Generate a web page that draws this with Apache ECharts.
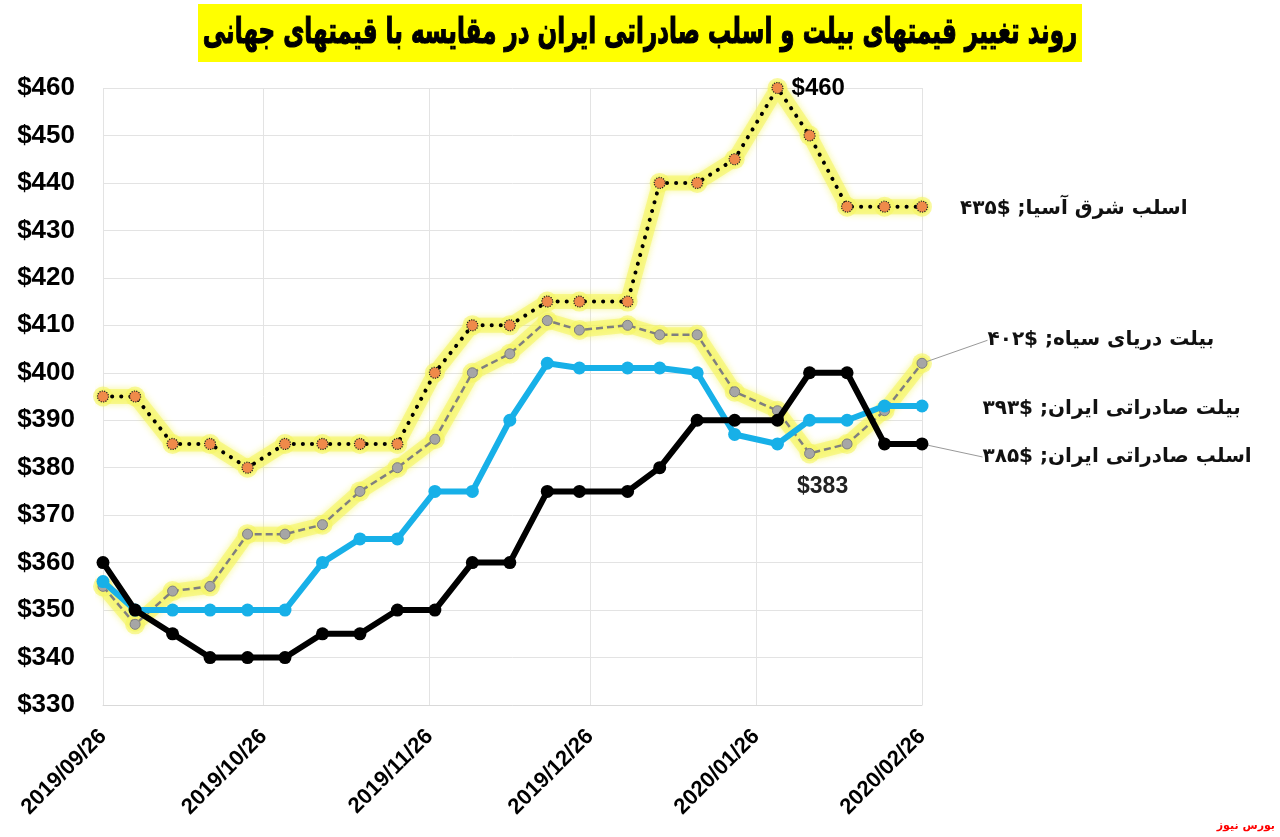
<!DOCTYPE html>
<html>
<head>
<meta charset="utf-8">
<script src="https://cdn.jsdelivr.net/npm/echarts@6/dist/echarts.min.js"></script>
<style>
html,body{margin:0;padding:0;background:#fff;}
#chart{width:1280px;height:837px;}
</style>
</head>
<body>
<div id="chart"></div>
<script>
// ---- data ----
const dates = ['2019-09-26','2019-10-02','2019-10-09','2019-10-16','2019-10-23','2019-10-30','2019-11-06','2019-11-13','2019-11-20','2019-11-27','2019-12-04','2019-12-11','2019-12-18','2019-12-24','2020-01-02','2020-01-08','2020-01-15','2020-01-22','2020-01-30','2020-02-05','2020-02-12','2020-02-19','2020-02-26'];
const tickDates = ['2019-09-26','2019-10-26','2019-11-26','2019-12-26','2020-01-26','2020-02-26'];
const eastAsiaSlab   = [395,395,385,385,380,385,385,385,385,400,410,410,415,415,415,440,440,445,460,450,435,435,435];
const blackSeaBillet = [355,347,354,355,366,366,368,375,380,386,400,404,411,409,410,408,408,396,392,383,385,392,402];
const iranBillet     = [356,350,350,350,350,350,360,365,365,375,375,390,402,401,401,401,400,387,385,390,390,393,393];
const iranSlab       = [360,350,345,340,340,340,345,345,350,350,360,360,375,375,375,380,390,390,390,400,400,385,385];
const seriesNames = ['اسلب شرق آسیا','بیلت دریای سیاه','بیلت صادراتی ایران','اسلب صادراتی ایران'];
const titleText = 'روند تغییر قیمتهای بیلت و اسلب صادراتی ایران در مقایسه با قیمتهای جهانی';
const sourceText = 'بورس نیوز';
const yMin = 330, yMax = 460, yStep = 10;

// ---- helpers ----
function ts(s){const p=s.split('-');return Date.UTC(+p[0],+p[1]-1,+p[2]);}
function fmtDate(v){const d=new Date(v);const m=d.getUTCMonth()+1,dd=d.getUTCDate();return d.getUTCFullYear()+'/'+(m<10?'0':'')+m+'/'+(dd<10?'0':'')+dd;}
function toFa(n){return String(n).replace(/[0-9]/g,c=>'۰۱۲۳۴۵۶۷۸۹'[+c]);}
function endText(i,arr){return seriesNames[i]+'; $'+toFa(arr[arr.length-1]);}
const X = dates.map(ts);
const LAST = dates.length - 1;
const latin = "'Liberation Sans',Arial,sans-serif";
const fa = "'DejaVu Sans',sans-serif";

function build(arr, labelFn){
  return arr.map((v,i)=>{
    const item = {value:[X[i], v]};
    const lab = labelFn ? labelFn(i, v, arr) : null;
    if (lab) Object.assign(item, lab);
    return item;
  });
}
const legendLabel = {color:'#111', fontFamily:fa, fontSize:20, fontWeight:'bold', position:'right'};
const glowLine = {width:15, color:'rgba(246,246,100,0.62)', shadowBlur:7, shadowColor:'rgba(240,240,40,0.8)', cap:'round', join:'round'};
const leader = {show:true, lineStyle:{color:'#999', width:1}};

const chart = echarts.init(document.getElementById('chart'), null, {renderer:'canvas'});
chart.setOption({
  animation:false,
  backgroundColor:'#fff',
  grid:{left:103, right:358, top:88, bottom:132, containLabel:false},
  xAxis:{
    type:'value', min:X[0], max:X[LAST], scale:true,
    axisLine:{show:true, lineStyle:{color:'#d9d9d9', width:1}},
    axisTick:{show:false, customValues:tickDates.map(ts)},
    splitLine:{show:true, lineStyle:{color:'#e3e3e3', width:1}},
    axisLabel:{customValues:tickDates.map(ts), rotate:45, margin:28, color:'#000', fontWeight:'bold', fontSize:22, fontFamily:latin, formatter:v=>fmtDate(v)}
  },
  yAxis:{
    type:'value', min:yMin, max:yMax, interval:yStep,
    axisLine:{show:false}, axisTick:{show:false},
    splitLine:{lineStyle:{color:'#e3e3e3', width:1}},
    axisLabel:{margin:28, color:'#000', fontWeight:'bold', fontSize:26, fontFamily:latin, formatter:v=>'$'+v}
  },
  graphic:[
    {type:'rect', left:198, top:4, shape:{width:884, height:58}, style:{fill:'#ffff00'}, z:10},
    {type:'text', x:640, y:34, scaleX:0.64, z:11,
      style:{text:titleText, x:0, y:0, align:'center', verticalAlign:'middle', fill:'#000', stroke:'#000', lineWidth:1.2, font:"bold 36px 'DejaVu Sans',sans-serif"}},
    {type:'text', right:5, bottom:5, style:{text:sourceText, fill:'#ff0000', font:"bold 11px 'DejaVu Sans',sans-serif"}, z:11}
  ],
  series:[
    {type:'line', name:'glow-ea', silent:true, z:1, data:build(eastAsiaSlab), symbol:'circle', symbolSize:20,
      itemStyle:{color:'rgba(246,246,100,0.62)'}, lineStyle:glowLine},
    {type:'line', name:'glow-bs', silent:true, z:1, data:build(blackSeaBillet), symbol:'circle', symbolSize:20,
      itemStyle:{color:'rgba(246,246,100,0.62)'}, lineStyle:glowLine},
    {type:'line', name:seriesNames[1], z:3, data:build(blackSeaBillet,(i,v,a)=>{
        if (i===LAST) return {label:Object.assign({show:true, formatter:endText(1,a), distance:60}, legendLabel), labelLine:leader};
        if (i===19) return {label:{show:true, position:'bottom', distance:14, formatter:'$'+v, color:'#222', fontWeight:'bold', fontSize:23, fontFamily:latin}};
        return null;}),
      labelLayout:p=>p.dataIndex===LAST?{dy:-23}:(p.dataIndex===19?{dx:13,dy:2}:{}),
      symbol:'circle', symbolSize:10, itemStyle:{color:'#a6a6a6', borderColor:'#7f7f7f', borderWidth:1},
      lineStyle:{color:'#7f7f7f', width:2.5, type:[7,4]}},
    {type:'line', name:seriesNames[2], z:4, data:build(iranBillet,(i,v,a)=>{
        if (i===LAST) return {label:Object.assign({show:true, formatter:endText(2,a), distance:54}, legendLabel)};
        return null;}),
      labelLayout:p=>p.dataIndex===LAST?{dy:3}:{},
      symbol:'circle', symbolSize:13, itemStyle:{color:'#17b0e8'}, lineStyle:{color:'#17b0e8', width:6}},
    {type:'line', name:seriesNames[3], z:5, data:build(iranSlab,(i,v,a)=>{
        if (i===LAST) return {label:Object.assign({show:true, formatter:endText(3,a), distance:54}, legendLabel), labelLine:leader};
        return null;}),
      labelLayout:p=>p.dataIndex===LAST?{dy:13}:{},
      symbol:'circle', symbolSize:13, itemStyle:{color:'#000'}, lineStyle:{color:'#000', width:6}},
    {type:'line', name:seriesNames[0], z:6, data:build(eastAsiaSlab,(i,v,a)=>{
        if (i===LAST) return {label:Object.assign({show:true, formatter:endText(0,a), distance:32}, legendLabel)};
        if (v===Math.max.apply(null,a)) return {label:{show:true, position:'right', distance:8, formatter:'$'+v, color:'#000', fontWeight:'bold', fontSize:24, fontFamily:latin}};
        return null;}),
      labelLayout:p=>p.dataIndex===LAST?{dy:2}:{},
      symbol:'circle', symbolSize:11, itemStyle:{color:'#ef8a4a', borderColor:'#222', borderWidth:1.2, borderType:'dotted'},
      lineStyle:{color:'#000', width:4, type:[0.1,9], cap:'round'}}
  ]
});
</script>
</body>
</html>
